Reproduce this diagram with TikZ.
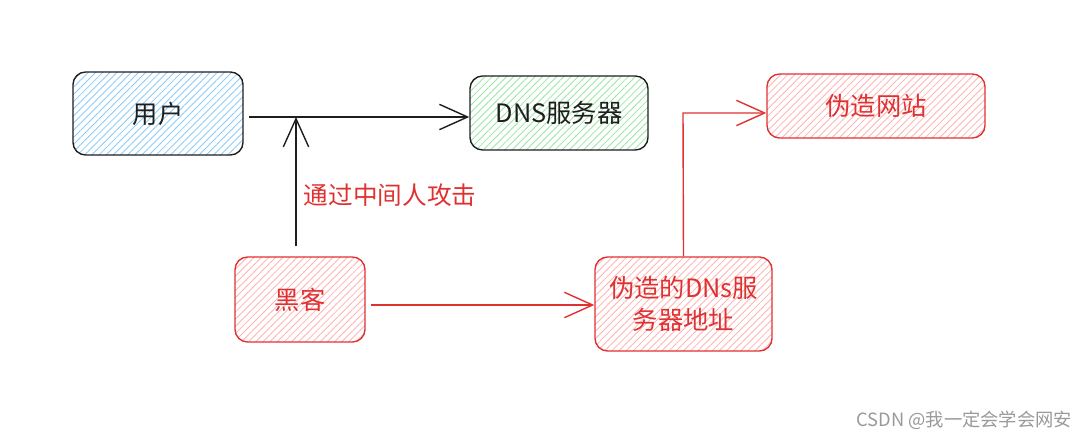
\documentclass[tikz,border=0pt]{standalone}
\usepackage{fontspec}
\setmainfont{Noto Sans CJK SC}
\usepackage{tikz}
\usetikzlibrary{arrows.meta, positioning, patterns.meta}
\definecolor{inkblack}{HTML}{1E1E1E}
\definecolor{inkred}{HTML}{E03131}
\definecolor{hatchblue}{HTML}{8CCBF7}
\definecolor{hatchgreen}{HTML}{9BE6A6}
\definecolor{hatchred}{HTML}{FFB3B3}

\begin{document}
\begin{tikzpicture}[
    x=0.025cm, y=-0.025cm,
    box/.style={rectangle, draw, line width=1pt, rounded corners=9pt,
                font=\fontsize{18}{23}\selectfont, align=center},
    goodbox/.style={box, draw=inkblack, text=inkblack},
    badbox/.style={box, draw=inkred, text=inkred,
                   pattern={Lines[angle=45,distance=3.6pt,line width=0.6pt]},
                   pattern color=hatchred},
    arrow/.style={-{Straight Barb[length=20pt,width=18pt,line width=1pt]},
                  line width=1pt, shorten <=4pt},
    note/.style={font=\fontsize{17.5}{21}\selectfont, text=inkred, anchor=west}
]
\useasboundingbox (0,0) rectangle (1090,440);

% Boxes
\node[goodbox, pattern={Lines[angle=45,distance=3.6pt,line width=0.6pt]},
      pattern color=hatchblue, minimum width=4.25cm, minimum height=2.075cm]
      at (158,113.5) (user) {用户};
\node[goodbox, pattern={Lines[angle=45,distance=3.6pt,line width=0.6pt]},
      pattern color=hatchgreen, minimum width=4.45cm, minimum height=1.85cm]
      at (559,113) (dns) {DNS服务器};
\node[badbox, minimum width=5.45cm, minimum height=1.6cm]
      at (876,106) (fakesite) {伪造网站};
\node[badbox, minimum width=3.25cm, minimum height=2.125cm]
      at (300,299.5) (hacker) {黑客};
\node[badbox, minimum width=4.425cm, minimum height=2.35cm]
      at (683.5,304) (fakedns) {伪造的DNs服\\务器地址};

% Arrows
\coordinate (hit) at (296,117);
\coordinate (low) at (370,305);
\coordinate (turn) at (683,113);
\draw[arrow, inkblack] (user.east |- hit) -- (dns.west |- hit);
\draw[arrow, inkblack, shorten <=7pt] (hacker.north -| hit) -- (hit);
\draw[arrow, inkred] (hacker.east |- low) -- (fakedns.west |- low);
\draw[arrow, inkred, shorten <=0pt] (fakedns.north) -- (turn) -- (fakesite.west |- turn);

% Labels
\node[note] at (299,195) (mitm) {通过中间人攻击};
\node[font=\fontsize{13}{16}\selectfont, text=gray!80, anchor=east]
      at (1077,420) (mark) {CSDN @我一定会学会网安};

\end{tikzpicture}
\end{document}
